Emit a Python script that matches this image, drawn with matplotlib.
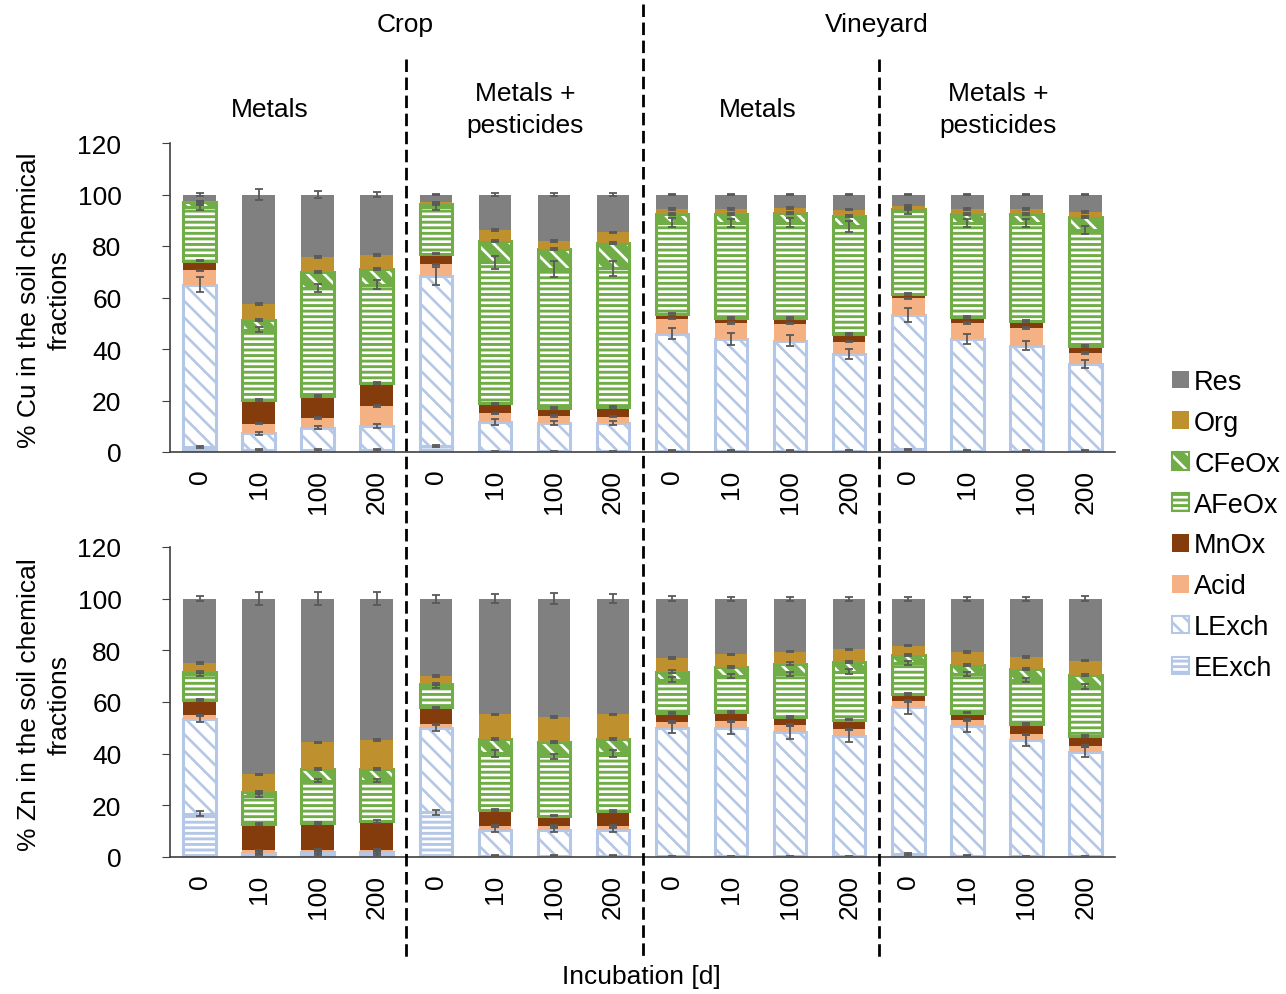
import matplotlib.pyplot as plt
import matplotlib.transforms as mtransforms
import numpy as np
from matplotlib.lines import Line2D
from matplotlib.patches import Patch

plt.rcParams['font.family'] = ['Liberation Sans', 'DejaVu Sans']
plt.rcParams['hatch.linewidth'] = 1.9

# incubation days, 4 treatments x 4 times
days = ["0", "10", "100", "200"] * 4
fractions = ["EExch", "LExch", "Acid", "MnOx", "AFeOx", "CFeOx", "Org", "Res"]

# Cu fractions (%), order: Crop Metals, Crop M+P, Vineyard Metals, Vineyard M+P
cu_eexch = [2.0, 0.8, 0.8, 0.8, 2.5, 0.3, 0.3, 0.3, 0.5, 0.5, 0.5, 0.5, 1.0, 0.5, 0.5, 0.5]
cu_lexch = [63.0, 6.4, 8.6, 9.3, 65.7, 11.5, 10.9, 10.9, 45.4, 43.4, 42.8, 37.5, 52.2, 43.4, 40.8, 33.7]
cu_acid = [5.5, 3.8, 3.8, 7.7, 4.7, 3.2, 2.8, 2.5, 5.9, 6.2, 6.6, 4.9, 6.5, 6.2, 6.9, 4.3]
cu_mnox = [3.8, 9.2, 8.5, 9.1, 4.1, 3.9, 3.1, 3.7, 1.9, 2.1, 2.3, 2.8, 1.8, 2.2, 2.6, 2.6]
cu_afeox = [20.8, 27.3, 42.0, 38.1, 18.3, 54.7, 54.0, 54.0, 35.4, 36.7, 36.9, 41.9, 31.9, 36.6, 38.1, 45.2]
cu_cfeox = [1.8, 3.9, 6.3, 6.1, 1.1, 8.4, 7.7, 9.7, 3.4, 3.6, 3.7, 4.1, 0.9, 3.6, 3.6, 4.8]
cu_org = [0.4, 6.0, 5.6, 5.4, 0.5, 4.3, 3.2, 4.2, 1.8, 1.8, 1.9, 2.4, 1.3, 1.8, 1.8, 2.2]
cu_res = [2.7, 42.6, 24.4, 23.5, 3.1, 13.7, 18.0, 14.7, 5.7, 5.7, 5.3, 5.9, 4.4, 5.7, 5.7, 6.7]

cu_eexch_err = [0.3, 0.3, 0.3, 0.3, 0.4, 0.2, 0.2, 0.2, 0.2, 0.2, 0.2, 0.2, 0.3, 0.3, 0.2, 0.2]
cu_lexch_err = [3.0, 0.5, 0.6, 0.7, 3.5, 1.2, 0.8, 0.8, 2.2, 2.2, 2.2, 2.0, 2.8, 2.0, 1.8, 1.6]
cu_acid_err = [0.3, 0.3, 0.3, 0.3, 0.3, 0.3, 0.3, 0.3, 0.3, 0.3, 0.3, 0.3, 0.3, 0.3, 0.3, 0.3]
cu_mnox_err = [0.3, 0.4, 0.4, 0.4, 0.3, 0.3, 0.3, 0.3, 0.4, 0.4, 0.4, 0.4, 0.4, 0.4, 0.4, 0.4]
cu_afeox_err = [1.0, 1.0, 1.6, 1.8, 1.2, 2.6, 3.0, 2.9, 1.6, 1.6, 1.8, 2.0, 1.0, 1.6, 1.7, 1.5]
cu_cfeox_err = [0.4, 0.4, 0.4, 0.4, 0.4, 0.4, 0.4, 0.4, 0.4, 0.4, 0.4, 0.4, 0.4, 0.4, 0.4, 0.4]
cu_org_err = [0.3, 0.4, 0.4, 0.4, 0.3, 0.3, 0.3, 0.3, 0.3, 0.3, 0.3, 0.3, 0.3, 0.3, 0.3, 0.3]
cu_res_err = [0.4, 2.0, 1.2, 1.0, 0.3, 0.5, 0.6, 0.4, 0.3, 0.3, 0.3, 0.3, 0.3, 0.3, 0.3, 0.3]

# Zn fractions (%)
zn_eexch = [16.8, 1.0, 0.8, 0.8, 17.3, 0.5, 0.5, 0.5, 0.3, 0.3, 0.3, 0.3, 1.2, 0.5, 0.3, 0.3]
zn_lexch = [36.8, 0.6, 1.0, 1.1, 32.8, 10.1, 10.1, 10.1, 49.8, 49.8, 47.9, 46.6, 56.9, 50.1, 44.9, 40.4]
zn_acid = [1.2, 1.0, 1.0, 0.9, 1.2, 1.5, 1.5, 1.5, 2.1, 2.4, 2.8, 2.5, 2.2, 2.4, 2.3, 2.2]
zn_mnox = [5.9, 10.1, 10.4, 11.0, 6.6, 6.2, 3.9, 5.7, 3.5, 3.6, 3.3, 3.8, 2.7, 2.9, 3.9, 3.9]
zn_afeox = [10.1, 11.1, 16.3, 15.7, 8.2, 21.8, 23.0, 22.3, 13.0, 13.9, 16.5, 18.5, 12.2, 14.9, 17.1, 19.1]
zn_cfeox = [0.8, 1.3, 4.7, 4.7, 0.8, 5.4, 5.4, 5.4, 3.1, 3.4, 4.1, 3.8, 3.0, 3.5, 4.4, 4.6]
zn_org = [3.6, 6.9, 10.2, 11.0, 3.1, 9.7, 9.9, 9.7, 5.2, 5.0, 4.6, 4.9, 3.6, 5.0, 4.6, 5.5]
zn_res = [24.8, 68.0, 55.6, 54.8, 30.0, 44.8, 45.7, 44.8, 23.0, 21.6, 20.5, 19.6, 18.2, 20.7, 22.5, 24.0]

zn_eexch_err = [1.0, 0.3, 0.3, 0.3, 1.0, 0.2, 0.2, 0.2, 0.2, 0.2, 0.2, 0.2, 0.3, 0.3, 0.2, 0.2]
zn_lexch_err = [1.5, 0.4, 0.4, 0.4, 1.5, 1.0, 0.8, 0.8, 2.2, 2.3, 2.4, 2.2, 2.7, 2.4, 2.2, 2.0]
zn_acid_err = [0.3, 0.3, 0.3, 0.3, 0.3, 0.3, 0.3, 0.3, 0.3, 0.3, 0.3, 0.3, 0.3, 0.3, 0.3, 0.3]
zn_mnox_err = [0.4, 0.5, 0.4, 0.5, 0.3, 0.3, 0.3, 0.3, 0.3, 0.3, 0.3, 0.3, 0.3, 0.3, 0.3, 0.3]
zn_afeox_err = [0.6, 0.6, 0.6, 0.6, 0.6, 1.2, 1.0, 1.2, 0.8, 0.8, 0.8, 1.0, 0.8, 0.8, 0.8, 1.0]
zn_cfeox_err = [0.4, 0.4, 0.4, 0.4, 0.4, 0.4, 0.4, 0.4, 0.4, 0.4, 0.4, 0.4, 0.4, 0.4, 0.4, 0.4]
zn_org_err = [0.3, 0.3, 0.3, 0.3, 0.3, 0.3, 0.3, 0.3, 0.3, 0.3, 0.3, 0.3, 0.3, 0.3, 0.3, 0.3]
zn_res_err = [1.0, 2.5, 2.4, 2.4, 1.5, 1.8, 2.1, 1.8, 1.0, 0.8, 0.8, 0.8, 0.8, 0.8, 0.8, 1.0]

cu_segs = [cu_eexch, cu_lexch, cu_acid, cu_mnox, cu_afeox, cu_cfeox, cu_org, cu_res]
cu_errs = [cu_eexch_err, cu_lexch_err, cu_acid_err, cu_mnox_err, cu_afeox_err, cu_cfeox_err, cu_org_err, cu_res_err]
zn_segs = [zn_eexch, zn_lexch, zn_acid, zn_mnox, zn_afeox, zn_cfeox, zn_org, zn_res]
zn_errs = [zn_eexch_err, zn_lexch_err, zn_acid_err, zn_mnox_err, zn_afeox_err, zn_cfeox_err, zn_org_err, zn_res_err]

blue = "#B4C7E7"
green = "#70AD47"
# base colour, hatch, hatch colour
styles = {
    "EExch": (blue, "---", "white"),
    "LExch": ("white", "\\\\", blue),
    "Acid": ("#F4B183", None, None),
    "MnOx": ("#843C0C", None, None),
    "AFeOx": (green, "---", "white"),
    "CFeOx": (green, "\\\\", "white"),
    "Org": ("#BF902E", None, None),
    "Res": ("#808080", None, None),
}
edge_of = {"EExch": blue, "LExch": blue, "AFeOx": green, "CFeOx": green}

FS = 19

fig = plt.figure(figsize=(12.86, 9.95), dpi=100)
W, H = 1286, 995
ax_top = fig.add_axes([170 / W, 1 - 453 / H, 945 / W, 309 / H])
ax_bot = fig.add_axes([170 / W, 1 - 858 / H, 945 / W, 310 / H])

x = np.arange(16)
width = 0.55


def draw_panel(ax, segs, errs):
    bottom = np.zeros(16)
    for name, vals, err in zip(fractions, segs, errs):
        vals = np.array(vals)
        face, hatch, hcol = styles[name]
        ax.bar(x, vals, width, bottom=bottom, color=face, linewidth=0)
        if hatch:
            ax.bar(x, vals, width, bottom=bottom, facecolor="none", edgecolor=hcol,
                   hatch=hatch, linewidth=0)
            ax.bar(x, vals, width, bottom=bottom, facecolor="none",
                   edgecolor=edge_of[name], linewidth=2.2)
        bottom = bottom + vals
        ax.errorbar(x, bottom, yerr=err, fmt="none", ecolor="#595959",
                    elinewidth=1.3, capsize=2.8, capthick=1.3, zorder=5)
    ax.set_xlim(-0.5, 15.5)
    ax.set_ylim(0, 120)
    ax.set_yticks(range(0, 121, 20))
    ax.set_xticks(x)
    ax.set_xticklabels(days, rotation=90, fontsize=FS)
    ax.tick_params(axis="x", length=0, pad=12)
    ax.tick_params(axis="y", length=6, pad=29, labelsize=FS, color="#404040")
    for s in ["top", "right"]:
        ax.spines[s].set_visible(False)
    ax.spines["left"].set_color("#404040")
    ax.spines["bottom"].set_color("#404040")
    ax.spines["left"].set_linewidth(1.2)
    ax.spines["bottom"].set_linewidth(1.2)


draw_panel(ax_top, cu_segs, cu_errs)
draw_panel(ax_bot, zn_segs, zn_errs)

# dashed separators running across both panels
trans = mtransforms.blended_transform_factory(ax_top.transData, fig.transFigure)
for xs, ytop in [(3.5, 60), (7.5, 5), (11.5, 60)]:
    fig.add_artist(Line2D([xs, xs], [1 - ytop / H, 1 - 960 / H], transform=trans,
                          color="black", lw=2, linestyle=(0, (4.5, 2))))

# group headers
fig.text(405 / W, 1 - 25 / H, "Crop", ha="center", va="center", fontsize=FS)
fig.text(877 / W, 1 - 25 / H, "Vineyard", ha="center", va="center", fontsize=FS)
for px, label in [(270, "Metals"), (525, "Metals +\npesticides"),
                  (758, "Metals"), (998, "Metals +\npesticides")]:
    fig.text(px / W, 1 - 110 / H, label, ha="center", va="center", fontsize=FS,
             linespacing=1.4)

fig.text(44 / W, 1 - 300 / H, "% Cu in the soil chemical\nfractions", rotation=90,
         ha="center", va="center", fontsize=FS, linespacing=1.35)
fig.text(44 / W, 1 - 705 / H, "% Zn in the soil chemical\nfractions", rotation=90,
         ha="center", va="center", fontsize=FS, linespacing=1.35)
fig.text(641 / W, 1 - 977 / H, "Incubation [d]", ha="center", va="center", fontsize=FS)

# legend, top entry = last stacked fraction
handles = []
for name in fractions[::-1]:
    face, hatch, hcol = styles[name]
    if hatch:
        handles.append((Patch(facecolor=face, linewidth=0),
                        Patch(facecolor="none", edgecolor=hcol, hatch=hatch, linewidth=0),
                        Patch(facecolor="none", edgecolor=edge_of[name], linewidth=1.5)))
    else:
        handles.append(Patch(facecolor=face, linewidth=0))
fig.legend(handles, fractions[::-1], loc="center left",
           bbox_to_anchor=(1172 / W, 1 - 526 / H), frameon=False, fontsize=FS + 0.5,
           handlelength=0.62, handleheight=0.62, handletextpad=0.2, labelspacing=0.55,
           borderaxespad=0, borderpad=0)

fig.savefig("out.png", dpi=100)
